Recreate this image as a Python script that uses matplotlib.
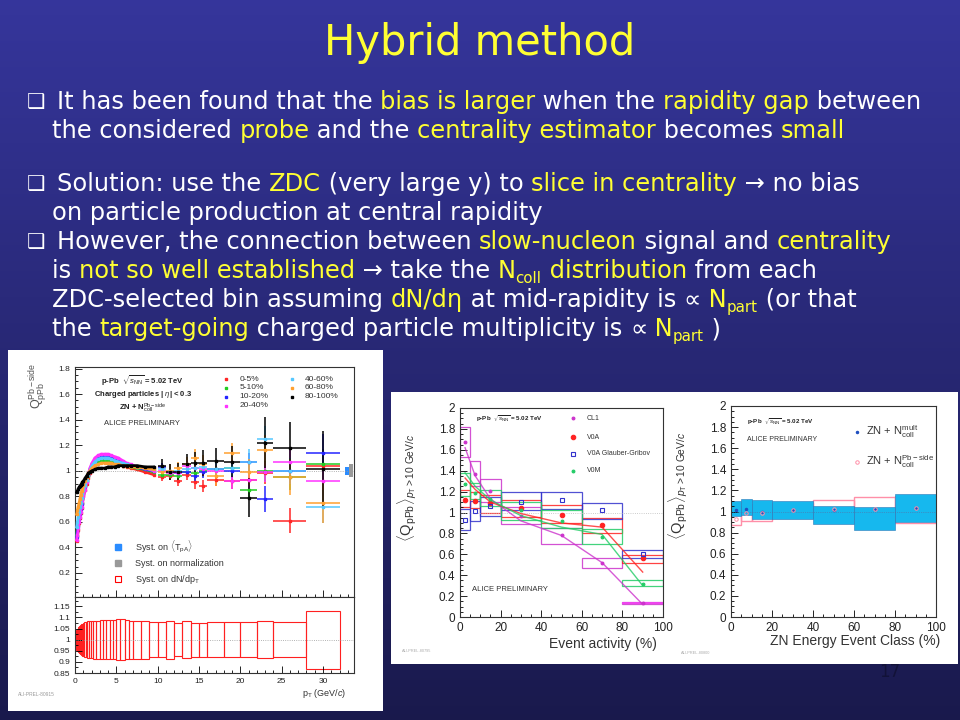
import numpy as np
import matplotlib
matplotlib.use("Agg")
from matplotlib import pyplot as plt
from matplotlib.patches import Rectangle
from matplotlib.ticker import AutoMinorLocator, FormatStrFormatter

plt.rcParams["font.family"] = ["Liberation Sans", "DejaVu Sans"]
plt.rcParams["mathtext.fontset"] = "custom"
plt.rcParams["mathtext.rm"] = "Liberation Sans"
plt.rcParams["mathtext.it"] = "Liberation Sans:italic"
plt.rcParams["mathtext.bf"] = "Liberation Sans:bold"

W_PX, H_PX = 960, 720
WH, YE = "white", "#ffff33"
SLIDE_FONT = ["DejaVu Sans"]

# ---------------- slide text: (text, colour, subscript?) ----------------
TITLE = "Hybrid method"
LINE1 = [("It has been found that the ", WH, False), ("bias is larger", YE, False),
         (" when the ", WH, False), ("rapidity gap", YE, False), (" between", WH, False)]
LINE2 = [("the considered ", WH, False), ("probe", YE, False), (" and the ", WH, False),
         ("centrality estimator", YE, False), (" becomes ", WH, False), ("small", YE, False)]
LINE3 = [("Solution: use the ", WH, False), ("ZDC", YE, False), (" (very large y) to ", WH, False),
         ("slice in centrality", YE, False), (" \u2192 no bias", WH, False)]
LINE4 = [("on particle production at central rapidity", WH, False)]
LINE5 = [("However, the connection between ", WH, False), ("slow-nucleon", YE, False),
         (" signal and ", WH, False), ("centrality", YE, False)]
LINE6 = [("is ", WH, False), ("not so well established", YE, False), (" \u2192 take the ", WH, False),
         ("N", YE, False), ("coll", YE, True), (" distribution", YE, False), (" from each", WH, False)]
LINE7 = [("ZDC-selected bin assuming ", WH, False), ("dN/d\u03b7", YE, False),
         (" at mid-rapidity is ", WH, False), ("\u221d", WH, False), (" N", YE, False),
         ("part", YE, True), (" (or that", WH, False)]
LINE8 = [("the ", WH, False), ("target-going", YE, False),
         (" charged particle multiplicity is ", WH, False), ("\u221d", WH, False),
         (" N", YE, False), ("part", YE, True), (" )", WH, False)]
PAGE_NO = "17"

# ---------------- left chart: Q_pPb vs pT per ZN class ----------------
PT_EDGES = [0.15, 0.25, 0.35, 0.45, 0.55, 0.65, 0.75, 0.85, 0.95, 1.1, 1.3, 1.5, 1.7, 1.9,
            2.2, 2.6, 3.0, 3.4, 3.8, 4.2, 4.6, 5.0, 5.5, 6.0, 6.5, 7.0, 8.0, 9.0, 10.0,
            11, 12, 13, 14, 15, 16, 18, 20, 22, 24, 28, 32]
CLASS_NAMES = ["0-5%", "5-10%", "10-20%", "20-40%", "40-60%", "60-80%", "80-100%"]
CLASS_COLORS = ["#ff2626", "#22cc22", "#2424ff", "#ff33ff", "#55c8ff", "#ffa030", "#000000"]

# pT < 10 GeV/c
Q_LO_0_5 = [0.45, 0.49, 0.54, 0.59, 0.63, 0.67, 0.71, 0.75, 0.80, 0.85, 0.90, 0.94, 0.98, 1.02,
            1.05, 1.07, 1.07, 1.07, 1.07, 1.06, 1.06, 1.05, 1.04, 1.03, 1.02, 1.01, 0.99, 0.97]
Q_LO_5_10 = [0.50, 0.54, 0.59, 0.63, 0.67, 0.71, 0.75, 0.79, 0.83, 0.88, 0.92, 0.96, 1.00, 1.03,
             1.06, 1.08, 1.08, 1.08, 1.08, 1.07, 1.07, 1.06, 1.05, 1.04, 1.03, 1.02, 1.01, 0.99]
Q_LO_10_20 = [0.48, 0.52, 0.57, 0.62, 0.66, 0.70, 0.74, 0.78, 0.82, 0.87, 0.92, 0.97, 1.01, 1.05,
              1.08, 1.10, 1.11, 1.11, 1.11, 1.10, 1.09, 1.08, 1.06, 1.05, 1.04, 1.03, 1.01, 1.00]
Q_LO_20_40 = [0.46, 0.50, 0.55, 0.60, 0.64, 0.68, 0.72, 0.76, 0.80, 0.85, 0.91, 0.97, 1.02, 1.06,
              1.10, 1.12, 1.13, 1.13, 1.13, 1.12, 1.11, 1.10, 1.08, 1.06, 1.05, 1.03, 1.02, 1.00]
Q_LO_40_60 = [0.56, 0.60, 0.64, 0.68, 0.72, 0.75, 0.79, 0.82, 0.85, 0.89, 0.93, 0.97, 1.00, 1.04,
              1.07, 1.09, 1.10, 1.10, 1.10, 1.09, 1.08, 1.07, 1.06, 1.05, 1.04, 1.03, 1.02, 1.01]
Q_LO_60_80 = [0.66, 0.69, 0.72, 0.75, 0.78, 0.81, 0.84, 0.86, 0.89, 0.92, 0.95, 0.98, 1.00, 1.02,
              1.04, 1.05, 1.06, 1.06, 1.06, 1.06, 1.05, 1.05, 1.04, 1.04, 1.03, 1.03, 1.02, 1.01]
Q_LO_80_100 = [0.83, 0.84, 0.86, 0.87, 0.88, 0.89, 0.90, 0.91, 0.92, 0.94, 0.96, 0.98, 0.99, 1.00,
               1.01, 1.02, 1.02, 1.02, 1.03, 1.03, 1.03, 1.04, 1.04, 1.04, 1.04, 1.04, 1.03, 1.03]

# pT > 10 GeV/c, with stat. errors
Q_HI_0_5 = [0.95, 0.96, 0.92, 0.97, 0.91, 0.88, 0.93, 0.92, 0.93, 0.98, 0.61, 1.04]
Q_HI_5_10 = [0.97, 0.97, 0.96, 0.99, 0.98, 1.00, 1.01, 1.02, 0.85, 1.00, 0.95, 1.05]
Q_HI_10_20 = [1.03, 0.99, 0.98, 0.99, 0.96, 0.99, 1.01, 1.00, 1.07, 0.78, 1.00, 1.14]
Q_HI_20_40 = [1.00, 0.98, 0.98, 1.04, 1.02, 1.01, 1.00, 0.92, 0.93, 0.99, 1.07, 0.92]
Q_HI_40_60 = [1.01, 1.00, 1.00, 1.01, 1.02, 1.03, 1.01, 1.02, 1.07, 1.25, 1.00, 0.72]
Q_HI_60_80 = [0.99, 1.00, 1.02, 1.05, 1.10, 1.05, 0.96, 1.14, 0.99, 1.16, 0.95, 0.75]
Q_HI_80_100 = [1.04, 0.99, 0.99, 1.05, 1.06, 1.06, 1.08, 1.07, 0.79, 1.22, 1.18, 1.01]
E_HI_0_5 = [0.03, 0.03, 0.04, 0.04, 0.05, 0.05, 0.05, 0.06, 0.07, 0.08, 0.10, 0.12]
E_HI_5_10 = [0.03, 0.03, 0.04, 0.04, 0.05, 0.05, 0.05, 0.06, 0.07, 0.08, 0.10, 0.12]
E_HI_10_20 = [0.03, 0.03, 0.04, 0.04, 0.05, 0.05, 0.05, 0.06, 0.07, 0.10, 0.10, 0.15]
E_HI_20_40 = [0.03, 0.03, 0.04, 0.04, 0.05, 0.05, 0.05, 0.06, 0.07, 0.08, 0.10, 0.12]
E_HI_40_60 = [0.03, 0.03, 0.04, 0.04, 0.05, 0.05, 0.05, 0.06, 0.10, 0.10, 0.10, 0.13]
E_HI_60_80 = [0.04, 0.05, 0.05, 0.06, 0.07, 0.07, 0.08, 0.08, 0.10, 0.12, 0.14, 0.16]
E_HI_80_100 = [0.05, 0.06, 0.07, 0.08, 0.09, 0.10, 0.10, 0.12, 0.15, 0.20, 0.20, 0.30]

SYST_TPA = 0.033
SYST_NORM = 0.052
# relative syst. on dN/dpT (half height of each box in the lower panel)
SYST_DNDPT = [0.045, 0.050, 0.055, 0.060, 0.063, 0.066, 0.069, 0.072, 0.075, 0.078, 0.080,
              0.082, 0.083, 0.084, 0.085, 0.086, 0.087, 0.087, 0.088, 0.088, 0.088, 0.092,
              0.092, 0.088, 0.086, 0.086, 0.085, 0.080, 0.080, 0.085, 0.075, 0.083, 0.076,
              0.076, 0.080, 0.080, 0.080, 0.082, 0.080, 0.130]

# ---------------- middle chart: <Q_pPb> vs event activity ----------------
EV_EDGES = [0, 5, 10, 20, 40, 60, 80, 100]
CL1_Q = [1.67, 1.37, 1.21, 0.97, 0.78, 0.52, 0.13]
CL1_LO = [1.53, 1.25, 1.10, 0.89, 0.70, 0.47, 0.12]
CL1_HI = [1.82, 1.49, 1.32, 1.05, 0.85, 0.56, 0.14]
CL1_FIT = [1.62, 1.35, 1.13, 0.92, 0.78, 0.52, 0.12]
V0A_Q = [1.12, 1.11, 1.09, 1.04, 0.98, 0.88, 0.56]
V0A_LO = [1.05, 1.04, 1.00, 0.96, 0.90, 0.80, 0.52]
V0A_HI = [1.22, 1.20, 1.17, 1.12, 1.07, 0.95, 0.59]
V0A_FIT = [1.33, 1.22, 1.10, 0.99, 0.90, 0.86, 0.43]
GG_Q = [0.93, 1.01, 1.06, 1.10, 1.12, 1.02, 0.60]
GG_LO = [0.83, 0.92, 0.97, 1.02, 1.03, 0.94, 0.56]
GG_HI = [1.03, 1.11, 1.15, 1.20, 1.20, 1.09, 0.64]
V0M_Q = [1.27, 1.19, 1.13, 1.02, 0.92, 0.77, 0.32]
V0M_LO = [1.16, 1.13, 1.06, 0.93, 0.85, 0.70, 0.30]
V0M_HI = [1.38, 1.28, 1.22, 1.10, 1.02, 0.84, 0.35]
V0M_FIT = [1.38, 1.25, 1.12, 0.97, 0.86, 0.79, 0.30]

# ---------------- right chart: <Q_pPb> vs ZN class ----------------
ZN_MULT_Q = [1.01, 1.02, 1.00, 1.01, 1.01, 1.02, 1.03]
ZN_MULT_LO = [0.96, 0.97, 0.93, 0.93, 0.88, 0.82, 0.90]
ZN_MULT_HI = [1.10, 1.12, 1.11, 1.10, 1.05, 1.04, 1.17]
ZN_PB_Q = [0.93, 0.99, 0.99, 1.01, 1.02, 1.02, 1.03]
ZN_PB_LO = [0.87, 0.91, 0.91, 0.94, 0.95, 0.93, 0.89]
ZN_PB_HI = [0.99, 1.05, 1.07, 1.08, 1.11, 1.14, 1.15]


def px_axes(x0, y0, x1, y1):
    # axes from pixel box (top-left origin)
    return fig.add_axes([x0 / W_PX, 1 - y1 / H_PX, (x1 - x0) / W_PX, (y1 - y0) / H_PX])


def root_style(ax, size):
    ax.tick_params(which="both", direction="in", top=False, right=False,
                   labelsize=size, labelcolor="#222222", width=0.6)
    ax.tick_params(which="major", length=5)
    ax.tick_params(which="minor", length=2.5)
    for s in ax.spines.values():
        s.set_linewidth(0.8)
        s.set_color("#333333")


fig = plt.figure(figsize=(9.6, 7.2), dpi=100)

# background of the slide
bg = fig.add_axes([0, 0, 1, 1])
c_top = np.array([0.21, 0.21, 0.61])
c_bot = np.array([0.10, 0.10, 0.30])
frac = np.linspace(0, 1, 256)[:, None]
grad = c_top + (c_bot - c_top) * frac
bg.imshow(grad[:, None, :], extent=[0, W_PX, H_PX, 0], aspect="auto", zorder=0)
bg.set_xlim(0, W_PX)
bg.set_ylim(H_PX, 0)
bg.axis("off")
renderer = fig.canvas.get_renderer()


def text_adv(s, fs):
    a = bg.text(0, 0, s + "|", fontsize=fs, family=SLIDE_FONT)
    b = bg.text(0, 0, "|", fontsize=fs, family=SLIDE_FONT)
    w = a.get_window_extent(renderer).width - b.get_window_extent(renderer).width
    a.remove()
    b.remove()
    return w


def draw_line(x, y, pieces, fs, bullet=False):
    if bullet:
        bg.text(27, y - 1, "\u2751", color=WH, fontsize=fs * 0.85, family=SLIDE_FONT, va="baseline")
    for txt, col, sub in pieces:
        size = fs * 0.62 if sub else fs
        dy = fs * 0.3 if sub else 0
        bg.text(x, y + dy, txt, color=col, fontsize=size, family=SLIDE_FONT, va="baseline")
        x += text_adv(txt, size)


bg.text(480, 55, TITLE, color=YE, fontsize=30, family=SLIDE_FONT, ha="center", va="baseline")
FS = 17.4
draw_line(57, 109, LINE1, FS, bullet=True)
draw_line(52, 138, LINE2, FS)
draw_line(57, 191, LINE3, FS, bullet=True)
draw_line(52, 220, LINE4, FS)
draw_line(57, 249, LINE5, FS, bullet=True)
draw_line(52, 278, LINE6, FS)
draw_line(52, 307, LINE7, FS)
draw_line(52, 336, LINE8, FS)
bg.text(890, 672, PAGE_NO, color="#121238", fontsize=12, family=SLIDE_FONT, ha="center", va="center")

# white picture areas
bg.add_patch(Rectangle((8, 350), 375, 361, facecolor="white", edgecolor="none", zorder=1))
bg.add_patch(Rectangle((391, 392), 567, 272, facecolor="white", edgecolor="none", zorder=1))

# ---------------- left chart ----------------
edges = np.array(PT_EDGES)
cen = 0.5 * (edges[1:] + edges[:-1])
hw = 0.5 * (edges[1:] - edges[:-1])
n_lo = len(Q_LO_0_5)
q_lo = [Q_LO_0_5, Q_LO_5_10, Q_LO_10_20, Q_LO_20_40, Q_LO_40_60, Q_LO_60_80, Q_LO_80_100]
q_hi = [Q_HI_0_5, Q_HI_5_10, Q_HI_10_20, Q_HI_20_40, Q_HI_40_60, Q_HI_60_80, Q_HI_80_100]
e_hi = [E_HI_0_5, E_HI_5_10, E_HI_10_20, E_HI_20_40, E_HI_40_60, E_HI_60_80, E_HI_80_100]

axT = px_axes(75, 367, 354, 597)
axT.axhline(1, color="#999999", lw=0.6, ls=":")
for col, ql, qh, eh in zip(CLASS_COLORS, q_lo, q_hi, e_hi):
    axT.plot(cen[:n_lo], ql, color=col, lw=2.0, marker="s", ms=1.6, zorder=3)
    axT.errorbar(cen[n_lo:], qh, xerr=hw[n_lo:], yerr=eh, fmt="s", ms=1.6, color=col,
                 elinewidth=1.1, capsize=0, zorder=3)
axT.bar(32.9, 2 * SYST_TPA, bottom=1 - SYST_TPA, width=0.4, color="#2a8cff")
axT.bar(33.4, 2 * SYST_NORM, bottom=1 - SYST_NORM, width=0.5, color="#999999")
axT.set_xlim(0, 33.75)
axT.set_ylim(0.012, 1.812)
axT.set_yticks([0.2, 0.4, 0.6, 0.8, 1.0, 1.2, 1.4, 1.6, 1.8])
axT.yaxis.set_major_formatter(FormatStrFormatter("%g"))
axT.xaxis.set_major_locator(plt.MultipleLocator(5))
axT.xaxis.set_minor_locator(plt.MultipleLocator(1))
axT.yaxis.set_minor_locator(AutoMinorLocator(4))
axT.set_xticklabels([])
root_style(axT, 6)

kw = dict(fontsize=5.5, color="#222222", ha="center", fontweight="bold")
axT.text(8.2, 1.68, r"p-Pb  $\sqrt{s_{\rm NN}}$ = 5.02 TeV", **kw)
axT.text(8.2, 1.585, r"Charged particles | $\eta$| < 0.3", **kw)
axT.text(8.2, 1.47, r"ZN + N$_{\rm coll}^{\rm Pb-side}$", **kw)
axT.text(8.1, 1.355, "ALICE PRELIMINARY", fontsize=5.5, color="#333333", ha="center")
leg_pos = [(18.3, 1.716), (18.3, 1.648), (18.3, 1.58), (18.3, 1.51),
           (26.2, 1.716), (26.2, 1.648), (26.2, 1.58)]
for (lx, ly), col, name in zip(leg_pos, CLASS_COLORS, CLASS_NAMES):
    axT.plot(lx, ly, "s", color=col, ms=1.6)
    axT.text(lx + 1.6, ly, name, fontsize=6, color="#333333", va="center")
axT.plot(5.2, 0.40, "s", color="#2a8cff", ms=4)
axT.plot(5.2, 0.277, "s", color="#999999", ms=4)
axT.plot(5.2, 0.152, "s", mfc="none", mec="red", ms=4, mew=0.8)
axT.text(7.2, 0.40, r"Syst. on $\langle$T$_{\rm pA}\rangle$", fontsize=6.5, color="#333333", va="center")
axT.text(7.2, 0.277, "Syst. on normalization", fontsize=6.5, color="#333333", va="center")
axT.text(7.2, 0.152, r"Syst. on dN/dp$_{\rm T}$", fontsize=6.5, color="#333333", va="center")

axB = px_axes(75, 597, 354, 673)
axB.axhline(1, color="#999999", lw=0.6, ls=":")
syst = np.array(SYST_DNDPT)
axB.bar(cen, 2 * syst, bottom=1 - syst, width=2 * hw, fill=False, edgecolor="#ff2020", lw=0.8)
axB.set_xlim(0, 33.75)
axB.set_ylim(0.85, 1.192)
axB.set_yticks([0.85, 0.9, 0.95, 1.0, 1.05, 1.1, 1.15])
axB.yaxis.set_major_formatter(FormatStrFormatter("%g"))
axB.xaxis.set_major_locator(plt.MultipleLocator(5))
axB.xaxis.set_minor_locator(plt.MultipleLocator(1))
axB.yaxis.set_minor_locator(AutoMinorLocator(2))
root_style(axB, 6)
bg.text(346, 693, r"p$_{\rm T}$ (GeV/$c$)", fontsize=6.5, color="#333333", ha="right", va="center", zorder=2)
bg.text(38, 386, r"Q$_{\rm pPb}^{\rm Pb-side}$", fontsize=9, color="#555555", rotation=90,
        ha="center", va="center", zorder=2)
bg.text(18, 695, "ALI-PREL-80915", fontsize=3.5, color="#999999", va="center", zorder=2)

# ---------------- middle chart ----------------
ev = np.array(EV_EDGES)
ev_c = 0.5 * (ev[1:] + ev[:-1])
ev_w = ev[1:] - ev[:-1]
ylab = r"$\langle$Q$_{\rm pPb}\rangle_{p_{\rm T}>10\ {\rm GeV}/c}$"

axM = px_axes(460, 408, 663, 617)
axM.axhline(1, color="#bbbbbb", lw=0.6, ls=":")
series = [(CL1_Q, CL1_LO, CL1_HI, CL1_FIT, "#cc33cc", "o", 2.0, "CL1"),
          (V0A_Q, V0A_LO, V0A_HI, V0A_FIT, "#ff2222", "o", 3.2, "V0A"),
          (GG_Q, GG_LO, GG_HI, None, "#3333cc", "s", 3.2, "V0A Glauber-Gribov"),
          (V0M_Q, V0M_LO, V0M_HI, V0M_FIT, "#22cc66", "o", 2.0, "V0M")]
for q, lo, hi, fit, col, mk, ms, name in series:
    lo = np.array(lo)
    hi = np.array(hi)
    axM.bar(ev_c, hi - lo, bottom=lo, width=ev_w, fill=False, edgecolor=col, lw=0.9, alpha=0.85)
    if fit is not None:
        axM.plot(ev_c, fit, color=col, lw=1.0, alpha=0.8)
    mfc = "none" if mk == "s" else col
    axM.plot(ev_c, q, mk, color=col, mfc=mfc, ms=ms, mew=0.8, ls="none")
axM.bar(90, 0.02, bottom=0.12, width=20, color="#ee44ee")
leg_y = [1.90, 1.72, 1.56, 1.40]
for ly, (q, lo, hi, fit, col, mk, ms, name) in zip(leg_y, series):
    mfc = "none" if mk == "s" else col
    axM.plot(55.7, ly, mk, color=col, mfc=mfc, ms=ms, mew=0.8)
    axM.text(62.4, ly, name, fontsize=5, color="#333333", va="center")
axM.text(8, 1.9, r"p-Pb  $\sqrt{s_{\rm NN}}$ = 5.02 TeV", fontsize=4.5, fontweight="bold", color="#222222", va="center")
axM.text(5.7, 0.26, "ALICE PRELIMINARY", fontsize=5.5, color="#333333", va="center")
axM.set_xlim(0, 100)
axM.set_ylim(0, 2)
axM.set_yticks(np.arange(0, 2.01, 0.2))
axM.yaxis.set_major_formatter(FormatStrFormatter("%g"))
axM.xaxis.set_major_locator(plt.MultipleLocator(20))
axM.xaxis.set_minor_locator(plt.MultipleLocator(5))
axM.yaxis.set_minor_locator(AutoMinorLocator(4))
root_style(axM, 8.5)
axM.set_ylabel(ylab, fontsize=10.5, color="#333333")
axM.yaxis.set_label_coords(-0.2, 0.62)
bg.text(657, 644, "Event activity (%)", fontsize=10, color="#333333", ha="right", va="center", zorder=2)
bg.text(402, 651, "ALI-PREL-80795", fontsize=2.8, color="#aaaaaa", va="center", zorder=2)

# ---------------- right chart ----------------
axZ = px_axes(731, 406, 936, 617)
lo = np.array(ZN_PB_LO)
hi = np.array(ZN_PB_HI)
axZ.bar(ev_c, hi - lo, bottom=lo, width=ev_w, fill=False, edgecolor="#ff8fa8", lw=1.0)
lo = np.array(ZN_MULT_LO)
hi = np.array(ZN_MULT_HI)
axZ.bar(ev_c, hi - lo, bottom=lo, width=ev_w, color="#16b8ee", edgecolor="#2a78b8", lw=0.4)
axZ.axhline(1, color="#5a6aa0", lw=0.5, ls=":")
axZ.plot(ev_c, ZN_MULT_Q, "o", color="#2050c0", ms=1.5)
axZ.plot(ev_c, ZN_PB_Q, "o", mfc="none", mec="#ff8fa8", ms=2.5, mew=0.7)
axZ.plot(61.3, 1.757, "o", color="#2050c0", ms=1.5)
axZ.text(66, 1.757, r"ZN + N$_{\rm coll}^{\rm mult}$", fontsize=8, color="#333333", va="center")
axZ.plot(61.3, 1.47, "o", mfc="none", mec="#ff8fa8", ms=2.5, mew=0.7)
axZ.text(66, 1.47, r"ZN + N$_{\rm coll}^{\rm Pb-side}$", fontsize=8, color="#333333", va="center")
axZ.text(7.6, 1.85, r"p-Pb  $\sqrt{s_{\rm NN}}$ = 5.02 TeV", fontsize=4.5, fontweight="bold", color="#222222", va="center")
axZ.text(7.6, 1.68, "ALICE PRELIMINARY", fontsize=5, color="#333333", va="center")
axZ.set_xlim(0, 100)
axZ.set_ylim(0, 2)
axZ.set_yticks(np.arange(0, 2.01, 0.2))
axZ.yaxis.set_major_formatter(FormatStrFormatter("%g"))
axZ.xaxis.set_major_locator(plt.MultipleLocator(20))
axZ.xaxis.set_minor_locator(plt.MultipleLocator(5))
axZ.yaxis.set_minor_locator(AutoMinorLocator(4))
root_style(axZ, 8.5)
axZ.set_ylabel(ylab, fontsize=10.5, color="#333333")
axZ.yaxis.set_label_coords(-0.2, 0.62)
bg.text(940, 641, "ZN Energy Event Class (%)", fontsize=10, color="#333333", ha="right", va="center", zorder=2)
bg.text(681, 653, "ALI-PREL-80800", fontsize=2.8, color="#aaaaaa", va="center", zorder=2)

fig.savefig("out.png", dpi=100)
